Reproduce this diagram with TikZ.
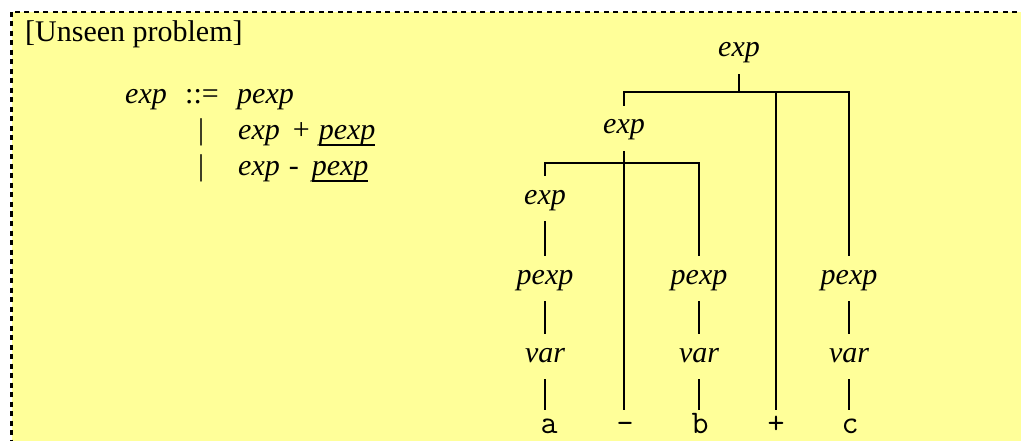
\documentclass[tikz,border=0pt]{standalone}
\usepackage{fontspec}
\setmainfont{Liberation Serif}
\definecolor{notefill}{HTML}{FFFF99}
% heavy underline sitting just under the descenders
\newcommand\ulword[1]{\setbox0\hbox{#1}\rlap{\rule[-6pt]{\wd0}{2.2pt}}\box0}
\begin{document}
\begin{tikzpicture}[x=1pt,y=1pt,
  tree/.style={line width=2pt},
  gram/.style={font=\fontsize{30}{34}\selectfont, anchor=base west, inner sep=0pt},
  lab/.style={font=\fontsize{30}{34}\selectfont\itshape, text height=28pt, text depth=17pt, inner ysep=0pt, inner xsep=2pt, anchor=base},
  term/.style={font=\fontsize{33}{36}\selectfont\ttfamily, text height=23pt, text depth=0pt, inner ysep=0pt, anchor=base}]
  % page and note background
  \clip (0,0) rectangle (1021,440);
  \fill[white] (0,0) rectangle (1021,440);
  \draw[line width=2.5pt, dash pattern=on 5pt off 4.5pt, fill=notefill] (11.5,428) rectangle (1040,-20);

  % grammar
  \node[gram] (title) at (25,398) {[Unseen problem]};
  \node[gram] (lhs) at (125,336) {\textit{exp}};
  \node[gram] (def) at (185,336) {::=};
  \node[gram] (alt1) at (237,336) {\textit{pexp}};
  \node[gram] (sep2) at (198,300) {|};
  \node[gram] (alt2) at (238,300) {\textit{exp}\hspace{13pt}+\hspace{9pt}\ulword{\textit{pexp}}};
  \node[gram] (sep3) at (198,264) {|};
  \node[gram] (alt3) at (238,264) {\textit{exp}\hspace{9pt}-\hspace{13pt}\ulword{\textit{pexp}}};

  % parse tree labels
  \node[lab] (root) at (739,383) {exp};
  \node[lab] (e2) at (624,306) {exp};
  \node[lab] (e3) at (545,236) {exp};
  \node[lab] (p1) at (545,156) {pexp};
  \node[lab] (p2) at (699,156) {pexp};
  \node[lab] (p3) at (849,156) {pexp};
  \node[lab] (v1) at (545,78) {var};
  \node[lab] (v2) at (699,78) {var};
  \node[lab] (v3) at (849,78) {var};
  \node[term] (ta) at (549,7) {a};
  \node[term] (tminus) at (625,7) {-};
  \node[term] (tb) at (700,7) {b};
  \node[term] (tplus) at (776,7) {+};
  \node[term] (tc) at (850,7) {c};

  % bar heights
  \coordinate (j1) at (0,348);
  \coordinate (j2) at (0,277);

  % tree edges
  \draw[tree] (root.south) -- (root.south |- j1);
  \draw[tree] (e2.north) -- (e2.north |- j1) -- (p3.north |- j1) -- (p3.north);
  \draw[tree] (tplus.north) -- (tplus.north |- j1);
  \draw[tree] (e2.south) -- (e2.south |- tminus.north);
  \draw[tree] (e3.north) -- (e3.north |- j2) -- (p2.north |- j2) -- (p2.north);
  \draw[tree] (e3.south) -- (p1.north);
  \draw[tree] (p1.south) -- (v1.north);
  \draw[tree] (p2.south) -- (v2.north);
  \draw[tree] (p3.south) -- (v3.north);
  \draw[tree] (v1.south) -- (v1.south |- ta.north);
  \draw[tree] (v2.south) -- (v2.south |- tb.north);
  \draw[tree] (v3.south) -- (v3.south |- tc.north);
\end{tikzpicture}
\end{document}
